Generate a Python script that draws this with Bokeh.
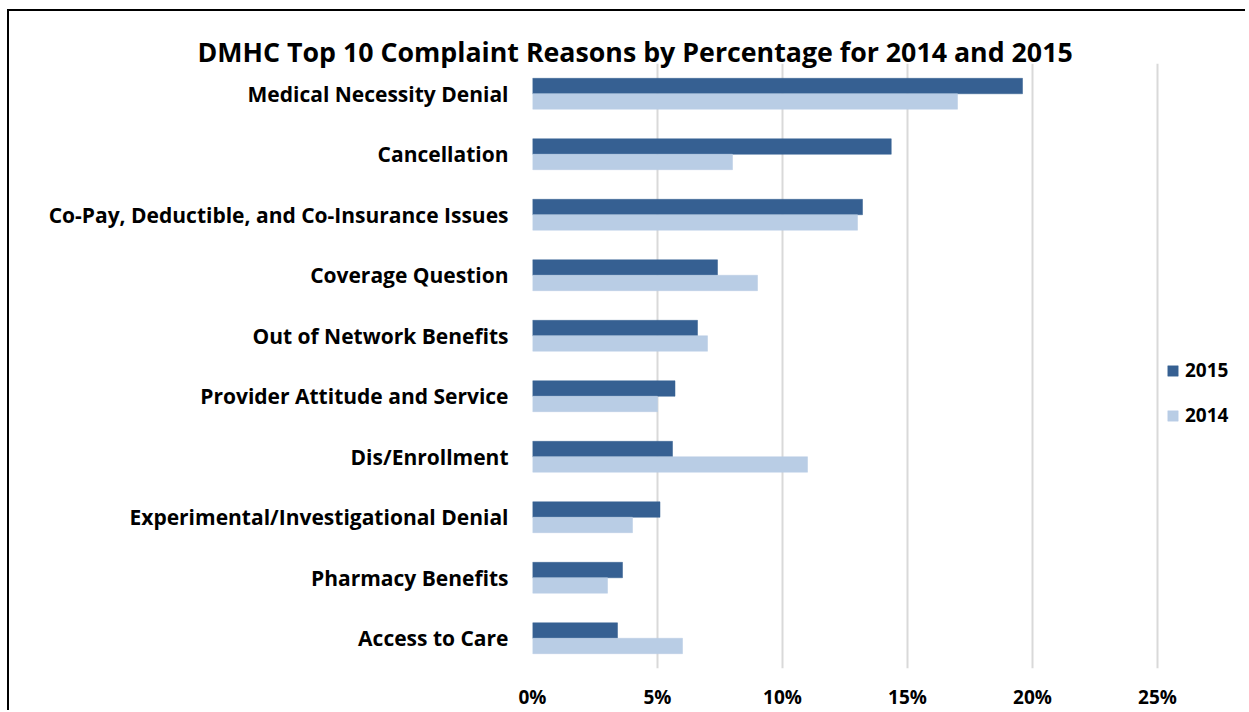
from bokeh.plotting import figure
from bokeh.models import FactorRange, Range1d, FixedTicker, Legend, LegendItem, ColumnDataSource
from bokeh.transform import dodge
from bokeh.embed import file_html
from bokeh.resources import INLINE

categories = [
    "Medical Necessity Denial",
    "Cancellation",
    "Co-Pay, Deductible, and Co-Insurance Issues",
    "Coverage Question",
    "Out of Network Benefits",
    "Provider Attitude and Service",
    "Dis/Enrollment",
    "Experimental/Investigational Denial",
    "Pharmacy Benefits",
    "Access to Care",
]
pct_2015 = [19.6, 14.35, 13.2, 7.4, 6.6, 5.7, 5.6, 5.1, 3.6, 3.4]
pct_2014 = [17.0, 8.0, 13.0, 9.0, 7.0, 5.0, 11.0, 4.0, 3.0, 6.0]
x_ticks = [0, 5, 10, 15, 20, 25]
tick_labels = ["0%", "5%", "10%", "15%", "20%", "25%"]
title_text = "DMHC Top 10 Complaint Reasons by Percentage for 2014 and 2015"

FONT = "Open Sans"
DARK = "#366092"
LIGHT = "#B9CDE5"

source = ColumnDataSource(dict(cat=categories, v2015=pct_2015, v2014=pct_2014))

p = figure(
    width=1238, height=701,
    y_range=FactorRange(factors=list(reversed(categories))),
    x_range=Range1d(0, 28.6),
    output_backend="svg", toolbar_location=None,
    min_border_left=523, min_border_top=52, min_border_right=0, min_border_bottom=42,
    styles={"margin-left": "7px", "margin-top": "9px",
            "border-left": "2px solid #000000", "border-top": "2px solid #000000"},
)

r15 = p.hbar(y=dodge("cat", 0.1275, range=p.y_range), right="v2015", left=0, height=0.255,
             source=source, fill_color=DARK, line_color=DARK, line_width=0.5)
r14 = p.hbar(y=dodge("cat", -0.1275, range=p.y_range), right="v2014", left=0, height=0.255,
             source=source, fill_color=LIGHT, line_color=LIGHT, line_width=0.5)

p.title.text = title_text
p.title.text_font = FONT
p.title.text_font_size = "26.75px"
p.title.text_font_style = "bold"
p.title.text_color = "#000000"
p.title.align = "left"
p.title.offset = -335
p.title.vertical_align = "bottom"
p.title.standoff = -13

p.outline_line_color = None
p.xgrid.ticker = FixedTicker(ticks=x_ticks)
p.xgrid.grid_line_color = "#D9D9D9"
p.xgrid.grid_line_width = 2
p.ygrid.grid_line_color = None

p.xaxis.ticker = FixedTicker(ticks=x_ticks)
p.xaxis.major_label_overrides = {t: l for t, l in zip(x_ticks, tick_labels)}
p.xaxis.axis_line_color = None
p.xaxis.major_tick_line_color = None
p.xaxis.minor_tick_line_color = None
p.xaxis.major_tick_out = 0
p.xaxis.major_label_standoff = 15
p.xaxis.major_label_text_font = FONT
p.xaxis.major_label_text_font_size = "19px"
p.xaxis.major_label_text_font_style = "bold"
p.xaxis.major_label_text_color = "#000000"

p.yaxis.axis_line_color = None
p.yaxis.major_tick_line_color = None
p.yaxis.minor_tick_line_color = None
p.yaxis.major_tick_out = 0
p.yaxis.major_label_standoff = 24
p.yaxis.major_label_text_font = FONT
p.yaxis.major_label_text_font_size = "21px"
p.yaxis.major_label_text_font_style = "bold"
p.yaxis.major_label_text_color = "#000000"

legend = Legend(
    items=[LegendItem(label="2015", renderers=[r15]), LegendItem(label="2014", renderers=[r14])],
    location=(634, 240),
    glyph_width=13, glyph_height=13, label_height=22, label_standoff=6, spacing=19,
    padding=0, margin=0, border_line_color=None, background_fill_alpha=0,
    label_text_font=FONT, label_text_font_size="19px", label_text_font_style="bold",
    label_text_color="#000000",
)
p.add_layout(legend)

open("out.html", "w").write(file_html(p, INLINE))
